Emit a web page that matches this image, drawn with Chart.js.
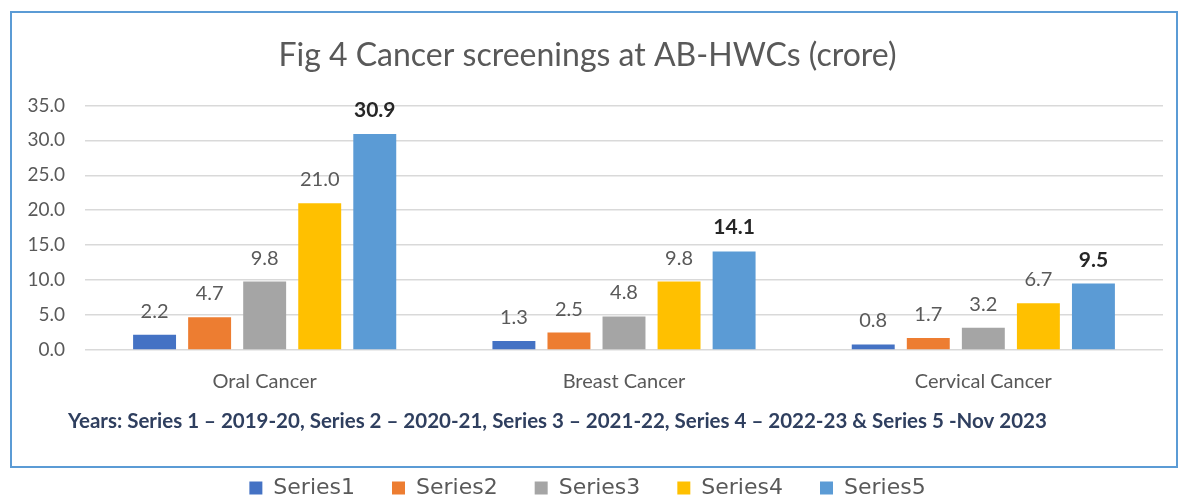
<!DOCTYPE html>
<html>
<head>
<meta charset="utf-8">
<script src="https://cdn.jsdelivr.net/npm/chart.js@4/dist/chart.umd.min.js"></script>
<style>
  html, body { margin: 0; padding: 0; background: #ffffff; }
  #wrap { width: 1189px; height: 499px; position: relative; }
</style>
</head>
<body>
<div id="wrap"><canvas id="c" width="1189" height="499"></canvas></div>
<script>
const categories = ["Oral Cancer", "Breast Cancer", "Cervical Cancer"];
const seriesNames = ["Series1", "Series2", "Series3", "Series4", "Series5"];
const series1 = [2.2, 1.3, 0.8];
const series2 = [4.7, 2.5, 1.7];
const series3 = [9.8, 4.8, 3.2];
const series4 = [21.0, 9.8, 6.7];
const series5 = [30.9, 14.1, 9.5];
const yTicks = [0, 5, 10, 15, 20, 25, 30, 35];
const titleText = "Fig 4 Cancer screenings at AB-HWCs (crore)";
const footnoteText = "Years: Series 1 \u2013 2019-20, Series 2 \u2013 2020-21, Series 3 \u2013 2021-22, Series 4 \u2013 2022-23 & Series 5 -Nov 2023";

const colors = ["#4472C4", "#ED7D31", "#A5A5A5", "#FFC000", "#5B9BD5"];
const allSeries = [series1, series2, series3, series4, series5];

const datasets = allSeries.map((vals, i) => ({
  label: seriesNames[i],
  data: vals,
  backgroundColor: colors[i],
  borderWidth: 0,
  categoryPercentage: 0.766,
  barPercentage: 0.78
}));

const FONT = "Lato, 'Open Sans', sans-serif";

const boxPlugin = {
  id: 'boxPlugin',
  beforeDraw(chart) {
    const ctx = chart.ctx;
    ctx.save();
    ctx.fillStyle = '#ffffff';
    ctx.fillRect(0, 0, chart.width, chart.height);
    ctx.strokeStyle = '#5B9BD5';
    ctx.lineWidth = 2;
    ctx.strokeRect(11, 12, 1166, 455);
    ctx.restore();
  },
  afterDraw(chart) {
    const ctx = chart.ctx;
    ctx.save();
    ctx.font = 'bold 20.5px ' + FONT;
    ctx.fillStyle = '#2F3F5F';
    ctx.textAlign = 'left';
    ctx.textBaseline = 'middle';
    ctx.fillText(footnoteText, 68, 421);
    ctx.restore();
  }
};

const labelPlugin = {
  id: 'labelPlugin',
  afterDatasetsDraw(chart) {
    const ctx = chart.ctx;
    ctx.save();
    ctx.textAlign = 'center';
    ctx.textBaseline = 'alphabetic';
    chart.data.datasets.forEach((ds, di) => {
      const meta = chart.getDatasetMeta(di);
      const last = di === chart.data.datasets.length - 1;
      ctx.font = (last ? 'bold 21px ' : '20px ') + FONT;
      ctx.fillStyle = last ? '#262626' : '#595959';
      meta.data.forEach((el, i) => {
        ctx.fillText(ds.data[i].toFixed(1), el.x, el.y - 17);
      });
    });
    ctx.restore();
  }
};

new Chart(document.getElementById('c'), {
  type: 'bar',
  data: { labels: categories, datasets: datasets },
  plugins: [boxPlugin, labelPlugin],
  options: {
    responsive: false,
    animation: false,
    devicePixelRatio: 1,
    layout: { padding: { left: 12, right: 26, top: 14, bottom: -10 } },
    plugins: {
      title: {
        display: true,
        text: titleText,
        color: '#595959',
        font: { family: FONT, size: 32, weight: 'normal' },
        padding: { top: 22, bottom: 31 }
      },
      legend: {
        position: 'bottom',
        labels: {
          color: '#595959',
          font: { family: "'DejaVu Sans', sans-serif", size: 22 },
          boxWidth: 13,
          boxHeight: 13,
          padding: 37
        }
      },
      tooltip: { enabled: false }
    },
    scales: {
      x: {
        grid: { display: false },
        border: { display: false },
        afterFit(axis) { axis.height = 90; },
        ticks: { color: '#595959', font: { family: FONT, size: 20 }, padding: 12 }
      },
      y: {
        min: 0,
        max: 35,
        afterBuildTicks(axis) { axis.ticks = yTicks.map(v => ({ value: v })); },
        afterFit(axis) { axis.width = 73; },
        grid: { color: '#D9D9D9', lineWidth: 1.5, drawTicks: false },
        border: { display: false },
        ticks: {
          color: '#595959',
          font: { family: FONT, size: 19 },
          padding: 20,
          callback: (v) => Number(v).toFixed(1)
        }
      }
    }
  }
});
</script>
</body>
</html>
